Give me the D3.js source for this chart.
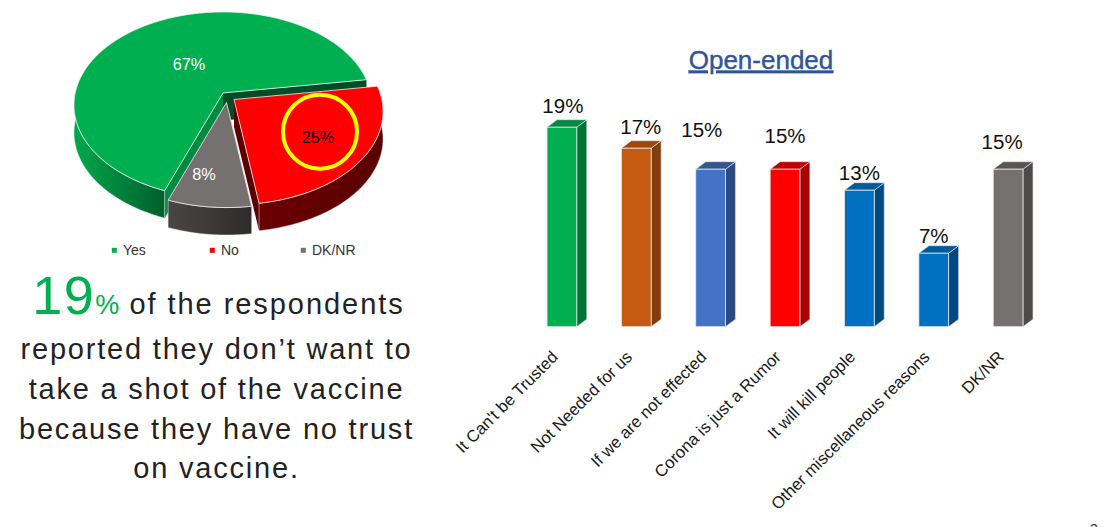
<!DOCTYPE html>
<html>
<head>
<meta charset="utf-8">
<script src="https://cdn.jsdelivr.net/npm/d3@7"></script>
<style>
	html, body { margin: 0; padding: 0; background: #fff; overflow: hidden; }
	svg { display: block; }
	text { font-family: "Liberation Sans", Arial, sans-serif; }
</style>
</head>
<body>
<script>
	// pie (left)
	var pieCategories = ["Yes", "No", "DK/NR"];
	var pieValues = [67, 25, 8];
	var pieColors = ["#00b050", "#ff0000", "#767171"];

	// bars (right)
	var barCategories = ["It Can't be Trusted", "Not Needed for us", "If we are not effected", "Corona is just a Rumor", "It will kill people", "Other miscellaneous reasons", "DK/NR"];
	var barValues = [19, 17, 15, 15, 13, 7, 15];
	var barFront = ["#00b050", "#c55a11", "#4472c4", "#ff0000", "#0070c0", "#0070c0", "#767171"];
	var barSide = ["#007336", "#843c0c", "#2b4a80", "#a80000", "#004a80", "#004a80", "#4d4a4a"];
	var barTop = ["#00893f", "#9e480e", "#35558f", "#c00000", "#005a9c", "#005a9c", "#5a5656"];

	var width = 1103,
		height = 527;

	var svg = d3.select("body").append("svg")
		.attr("width", width)
		.attr("height", height);

	var defs = svg.append("defs");

	///////////////////////////
	// 3D pie

	var cx = 223, cy = 93,
		rx = 147.8, ry = 91.5, persp = 0.129,
		depth = 27.5;

	// perspective projection of the unit circle, the near edge comes out bigger
	function project(a) {
		var X = Math.sin(a), Y = -Math.cos(a), d = 1 - persp * Y;
		return [cx + rx * X / d, cy + ry * Y / d];
	}

	var deg = Math.PI / 180;
	var pie = d3.pie().sort(null).startAngle(200.3 * deg).endAngle(560.3 * deg);
	var slices = pie(pieValues).map(function(s) {
		// keep every slice inside one turn so the front/back test works
		var off = s.startAngle >= 2 * Math.PI ? 2 * Math.PI : 0;
		return {value: s.value, startAngle: s.startAngle - off, endAngle: s.endAngle - off};
	});
	var explode = [[0, 0], [11, 6.5], [3.5, 9.5]];
	var lineGen = d3.line();

	function rimPoints(a0, a1) {
		var n = Math.max(2, Math.ceil((a1 - a0) / deg));
		return d3.range(n + 1).map(function(i) { return project(a0 + (a1 - a0) * i / n); });
	}

	function sidePath(a0, a1) {
		var pts = rimPoints(a0, a1);
		var low = pts.map(function(p) { return [p[0], p[1] + depth]; }).reverse();
		return lineGen(pts.concat(low)) + "Z";
	}

	function wallPath(a) {
		var p = project(a);
		return lineGen([[cx, cy], p, [p[0], p[1] + depth], [cx, cy + depth]]) + "Z";
	}

	function addGradient(id, c1, c2) {
		var g = defs.append("linearGradient").attr("id", id);
		g.append("stop").attr("offset", "0%").attr("stop-color", c1);
		g.append("stop").attr("offset", "100%").attr("stop-color", c2);
	}
	addGradient("sideYes", "#00a84c", "#005f2d");
	addGradient("sideNo", "#6b0000", "#5a0000");
	addGradient("sideDk", "#4a4646", "#2f2b2b");

	var sideFill = ["url(#sideYes)", "url(#sideNo)", "url(#sideDk)"];
	var startWall = ["#008a42", "#5c0000", "#3f3b3b"];
	var endWall = ["#004d26", "#5c0000", "#3f3b3b"];
	var order = [0, 2, 1];	// back slice first

	var pieG = svg.append("g");
	order.forEach(function(i) {
		var s = slices[i];
		var g = pieG.append("g").attr("transform", "translate(" + explode[i] + ")");
		var a1 = Math.min(s.endAngle, 270 * deg);
		g.append("path").attr("d", wallPath(s.endAngle)).attr("fill", endWall[i]);
		g.append("path").attr("d", wallPath(s.startAngle)).attr("fill", startWall[i]);
		g.append("path")
			.attr("d", sidePath(s.startAngle, a1))
			.attr("fill", sideFill[i])
			.attr("stroke", "#eeeeee")
			.attr("stroke-width", 0.5);
		var top = [[cx, cy]].concat(rimPoints(s.startAngle, s.endAngle));
		g.append("path")
			.attr("d", lineGen(top) + "Z")
			.attr("fill", pieColors[i])
			.attr("stroke", "#f2f2f2")
			.attr("stroke-width", 0.8)
			.attr("stroke-linejoin", "round");
	});

	// slice labels
	var pieLabelPos = [[189, 70], [318, 143], [204, 180]];
	var pieLabelColor = ["#fff", "#1a0000", "#fff"];
	pieG.selectAll(".pie-label")
		.data(slices)
		.enter().append("text")
		.attr("class", "pie-label")
		.attr("x", function(d, i) { return pieLabelPos[i][0]; })
		.attr("y", function(d, i) { return pieLabelPos[i][1]; })
		.attr("text-anchor", "middle")
		.attr("font-size", 16.3)
		.attr("fill", function(d, i) { return pieLabelColor[i]; })
		.text(function(d) { return d.value + "%"; });

	// yellow ring round the 25%
	svg.append("circle")
		.attr("cx", 320).attr("cy", 131.7).attr("r", 37)
		.attr("fill", "none")
		.attr("stroke", "#ffff00")
		.attr("stroke-width", 4);

	// legend
	var legendX = [114.3, 212.3, 303.3];
	var legend = svg.selectAll(".legend")
		.data(pieCategories)
		.enter().append("g")
		.attr("class", "legend")
		.attr("transform", function(d, i) { return "translate(" + legendX[i] + ",250.3)"; });
	legend.append("rect")
		.attr("x", -2.5).attr("y", -2.5)
		.attr("width", 5).attr("height", 5)
		.attr("fill", function(d, i) { return pieColors[i]; });
	legend.append("text")
		.attr("x", 8.7).attr("y", 4.6)
		.attr("font-size", 14)
		.attr("fill", "#333")
		.text(function(d) { return d; });

	///////////////////////////
	// paragraph under the pie

	var para = svg.append("g").attr("fill", "#222").attr("font-size", 29).attr("letter-spacing", 1.8).attr("text-anchor", "middle");
	var first = para.append("text").attr("x", 218.5).attr("y", 314);
	first.append("tspan").attr("font-size", 54).attr("fill", "#00b050").attr("letter-spacing", 1.5).text("19");
	first.append("tspan").attr("font-size", 27).attr("fill", "#00b050").attr("letter-spacing", 0).text("%");
	first.append("tspan").attr("letter-spacing", 1.95).text(" of the respondents");
	var paraLines = ["reported they don\u2019t want to", "take a shot of the vaccine", "because they have no trust", "on vaccine."];
	var paraY = [359, 399, 439, 478];
	para.selectAll(".line")
		.data(paraLines)
		.enter().append("text")
		.attr("class", "line")
		.attr("x", 216.5)
		.attr("y", function(d, i) { return paraY[i]; })
		.text(function(d) { return d; });

	///////////////////////////
	// 3D bars

	var x = d3.scaleBand()
		.domain(barCategories)
		.range([524.7, 1045.3])
		.paddingInner(0.6)
		.paddingOuter(0.3);

	var y = d3.scaleLinear()
		.domain([0, 20])
		.range([326.7, 116.7]);

	var dx3 = 10, dy3 = 7.5;

	svg.append("text")
		.attr("x", 761).attr("y", 68.5)
		.attr("text-anchor", "middle")
		.attr("font-size", 26)
		.attr("fill", "#2f5597")
		.attr("stroke", "#2f5597")
		.attr("stroke-width", 0.4)
		.attr("text-decoration", "underline")
		.text("Open-ended");

	var bars = svg.selectAll(".bar")
		.data(barValues)
		.enter().append("g")
		.attr("class", "bar");

	function bx(i) { return x(barCategories[i]); }

	bars.append("path")
		.attr("d", function(d, i) {
			var l = bx(i) + x.bandwidth(), t = y(d), b = y(0);
			return lineGen([[l, t], [l + dx3, t - dy3], [l + dx3, b - dy3], [l, b]]) + "Z";
		})
		.attr("fill", function(d, i) { return barSide[i]; })
		.attr("stroke", "#e8e8e8").attr("stroke-width", 0.6);

	bars.append("path")
		.attr("d", function(d, i) {
			var l = bx(i), r = l + x.bandwidth(), t = y(d);
			return lineGen([[l, t], [l + dx3, t - dy3], [r + dx3, t - dy3], [r, t]]) + "Z";
		})
		.attr("fill", function(d, i) { return barTop[i]; })
		.attr("stroke", "#e8e8e8").attr("stroke-width", 0.6);

	bars.append("rect")
		.attr("x", function(d, i) { return bx(i); })
		.attr("y", function(d) { return y(d); })
		.attr("width", x.bandwidth())
		.attr("height", function(d) { return y(0) - y(d); })
		.attr("fill", function(d, i) { return barFront[i]; })
		.attr("stroke", "#e8e8e8").attr("stroke-width", 0.8);

	// value labels were dragged around by hand in the original
	var labelNudge = [[1, -14.6], [4.5, -14.3], [-8.8, -32.3], [0, -26.3], [0, -10.7], [0, -10.7], [-6, -20.3]];
	bars.append("text")
		.attr("x", function(d, i) { return bx(i) + x.bandwidth() / 2 + labelNudge[i][0]; })
		.attr("y", function(d, i) { return y(d) + labelNudge[i][1]; })
		.attr("text-anchor", "middle")
		.attr("font-size", 20.5)
		.attr("fill", "#111")
		.text(function(d) { return d + "%"; });

	// category labels
	svg.selectAll(".cat")
		.data(barCategories)
		.enter().append("text")
		.attr("class", "cat")
		.attr("text-anchor", "end")
		.attr("font-size", 16.7)
		.attr("fill", "#1a1a1a")
		.attr("transform", function(d) {
			return "translate(" + (x(d) + x.bandwidth() / 2 - 3) + ",358) rotate(-45)";
		})
		.text(function(d) { return d; });

	// slide number, cut off by the bottom edge like in the original
	svg.append("text")
		.attr("x", 1090).attr("y", 534)
		.attr("font-size", 14)
		.attr("fill", "#222")
		.text("3");
</script>
</body>
</html>
